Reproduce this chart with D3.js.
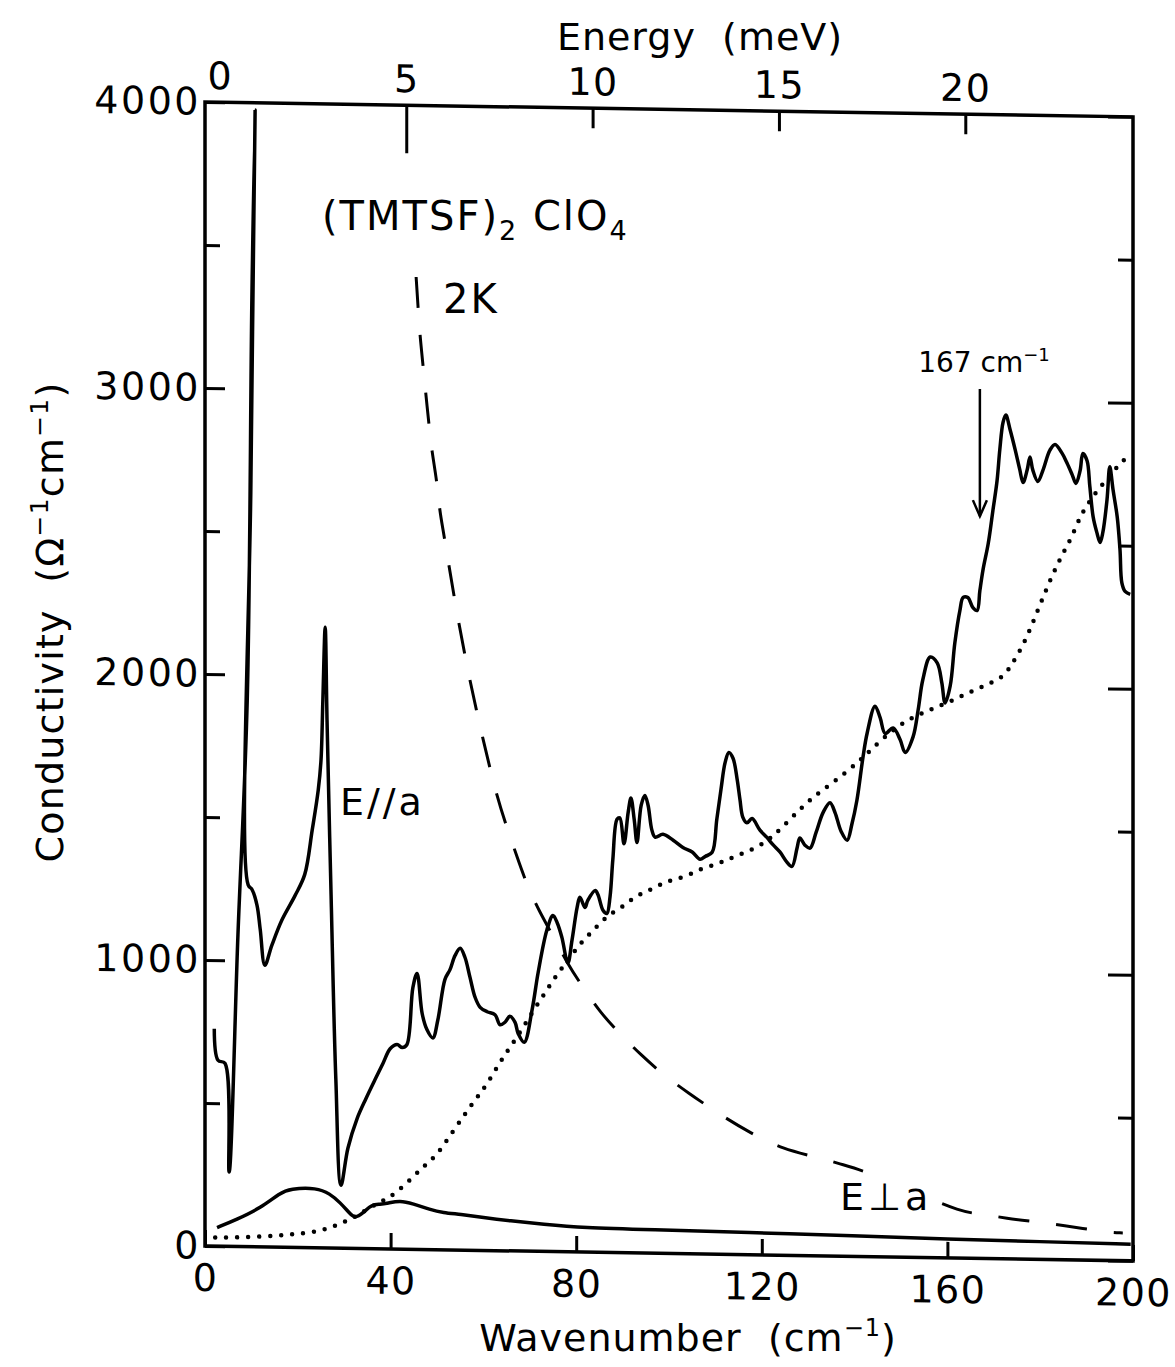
<!DOCTYPE html>
<html>
<head>
<meta charset="utf-8">
<title>(TMTSF)2ClO4 far-infrared conductivity</title>
<script src="https://cdn.jsdelivr.net/npm/d3@7/dist/d3.min.js"></script>
<style>
  html, body { margin: 0; padding: 0; background: #fff; }
  svg { display: block; }
  text { font-family: "DejaVu Sans", "Liberation Sans", sans-serif; fill: #000; }
</style>
</head>
<body>
<svg id="chart" width="1175" height="1367" viewBox="0 0 1175 1367"></svg>
<script>
// ---- axes ----
const wavenumberTicks = [0, 40, 80, 120, 160, 200];           // cm^-1
const energyTicks = [0, 5, 10, 15, 20];                       // meV
const energyDomain = [-0.4, 24.5];                            // meV spanned by the top axis
const conductivityTicks = [0, 1000, 2000, 3000, 4000];        // ohm^-1 cm^-1
const conductivityHalfTicks = [500, 1500, 2500, 3500];

// ---- spectra at 2 K: [wavenumber (cm^-1), conductivity (ohm^-1 cm^-1)] ----
const sigmaParallel = [
  [2.0,760],[2.8,650],[4.3,640],[5.2,260],[7.1,1090],[9.1,1910],[10.1,3310],[10.8,3975],
  [9.9,2680],[9.3,1265],[10.1,1250],[11.2,1195],[11.9,1110],[12.9,985],[14.4,1055],[16.6,1145],
  [19.4,1230],[21.5,1305],[23.1,1460],[24.4,1600],[25.0,1705],[25.4,1915],[25.9,2170],[26.3,1845],
  [27.2,1215],[28.2,590],[29.3,220],[30.8,350],[32.8,455],[34.7,525],[36.6,590],[38.4,650],
  [39.9,700],[41.4,715],[42.5,705],[43.5,715],[44.8,915],[45.7,965],[46.8,825],[47.8,770],
  [49.1,740],[50.2,805],[51.7,945],[52.8,980],[53.9,1030],[55.0,1055],[56.0,1025],[57.1,955],
  [58.2,885],[59.3,850],[60.8,835],[62.5,825],[63.6,790],[64.7,800],[65.7,820],[66.8,800],
  [67.5,760],[68.8,730],[70.5,845],[71.8,975],[73.7,1125],[75.0,1175],[75.9,1150],[76.9,1100],
  [78.2,1010],[79.1,1090],[80.2,1205],[80.8,1240],[81.9,1205],[82.5,1230],[84.1,1265],[84.7,1250],
  [85.8,1195],[86.6,1185],[87.3,1245],[87.9,1375],[88.8,1515],[89.4,1520],[90.3,1430],[91.2,1540],
  [91.8,1590],[92.5,1515],[93.1,1435],[94.0,1565],[94.8,1600],[95.5,1565],[96.3,1480],[97.0,1455],
  [98.7,1465],[100.9,1445],[103.0,1420],[105.0,1405],[106.7,1380],[107.8,1390],[109.3,1405],[110.3,1520],
  [111.2,1625],[112.1,1720],[112.9,1755],[113.8,1735],[114.7,1660],[115.3,1590],[115.9,1530],[116.8,1510],
  [117.9,1525],[119.6,1485],[121.1,1460],[122.4,1435],[123.9,1410],[125.4,1375],[126.5,1360],[127.6,1425],
  [128.2,1460],[129.3,1435],[130.4,1425],[131.7,1480],[133.2,1550],[134.7,1585],[135.8,1550],[137.1,1485],
  [138.4,1455],[139.4,1510],[140.5,1595],[141.8,1745],[142.7,1830],[144.4,1925],[145.5,1885],[146.6,1830],
  [148.3,1850],[149.8,1810],[150.9,1765],[152.6,1820],[153.7,1915],[154.7,2020],[156.3,2100],[157.8,2080],
  [158.8,2010],[159.5,1940],[160.6,2000],[161.6,2150],[162.7,2265],[163.4,2310],[164.4,2310],[165.5,2275],
  [166.4,2265],[167.0,2335],[167.7,2410],[168.8,2500],[169.8,2615],[170.7,2720],[171.3,2830],[172.0,2925],
  [172.6,2950],[173.5,2900],[174.6,2830],[175.6,2760],[176.3,2715],[177.2,2760],[177.8,2805],[178.4,2760],
  [179.5,2720],[180.6,2760],[182.1,2830],[183.2,2850],[184.7,2820],[185.8,2785],[186.9,2745],[187.7,2715],
  [188.6,2760],[189.2,2820],[190.1,2795],[190.7,2705],[191.4,2600],[192.2,2545],[192.9,2510],[193.5,2545],
  [194.4,2660],[195.0,2775],[195.7,2695],[196.6,2600],[197.2,2485],[197.6,2370],[198.3,2340],[199.4,2330]
];

const sigmaPerpendicular = [
  [2.6,65],[6.9,95],[11.9,135],[16.2,190],[18.3,205],[24.1,210],[26.9,190],[29.1,160],
  [31.3,120],[32.3,105],[34.1,125],[36.0,155],[37.7,155],[39.4,160],[42.0,170],[44.8,160],
  [48.5,140],[51.3,130],[55.0,125],[59.9,115],[65.7,105],[72.8,95],[81.5,85],[95.9,82],
  [117,78],[140,72],[160,66],[180,62],[199.5,58]
];

// dashed curve
const sigmaDashed = [
  [45.5,3400],[45.9,3300],[46.3,3200],[47.0,3090],[47.6,2990],[48.3,2880],[48.9,2790],[50.0,2685],
  [50.6,2580],[51.3,2520],[54,2250],[57,1995],[60,1780],[63.1,1575],[65.1,1480],[67.2,1380],
  [69.4,1280],[72.0,1190],[74.8,1110],[78.2,1005],[81.5,925],[85.1,840],[89.7,760],[93.8,695],
  [98.7,625],[103.9,565],[111,488],[117.5,426],[124.6,370],[131.9,345],[137.5,320],[143.3,293],
  [153,229],[162.7,161],[168.5,153],[172,143],[180.6,128],[184.3,122],[194.0,99],[197.8,97]
];

// dotted curve
const sigmaDotted = [
  [2.2,30],[3.9,30],[11.9,35],[18.3,45],[24.1,55],[28.4,80],[31.9,105],[37.1,160],
  [39.9,180],[43.5,230],[47.0,290],[50.0,330],[52.8,400],[56.0,475],[58.6,535],[60.3,570],
  [62.9,640],[64.2,675],[65.7,710],[68.3,775],[71.1,850],[73.7,915],[76.1,975],[78.7,1030],
  [81.2,1085],[83.4,1120],[85.6,1160],[87.9,1190],[90.1,1210],[92.2,1240],[94.4,1260],[96.6,1275],
  [98.7,1295],[100.6,1305],[102.8,1315],[105.0,1330],[106.7,1345],[108.8,1355],[111.0,1370],[112.7,1380],
  [114.7,1395],[116.8,1410],[119.0,1425],[121.1,1450],[122.8,1470],[126.7,1535],[131.0,1605],[136.2,1665],
  [141.2,1735],[144.0,1780],[148.3,1845],[152.6,1890],[156.9,1920],[161.2,1950],[165.5,1985],[169.8,2015],
  [172.4,2040],[174.1,2085],[176.3,2145],[178.4,2225],[180.6,2315],[182.8,2400],[184.9,2470],[186.9,2530],
  [188.6,2600],[190.3,2645],[192.9,2705],[195.7,2755],[197.2,2790],[198.9,2810]
];

// marker for the 167 cm^-1 feature
const markerWavenumber = 167;
const markerFrom = 3040;
const markerTo = 2595;

// ---- drawing ----
const svg = d3.select("#chart");
svg.append("rect").attr("width", 1175).attr("height", 1367).attr("fill", "#fff");

const x = d3.scaleLinear().domain([0, 200]).range([205, 1133]);
const y = d3.scaleLinear().domain([0, 4000]).range([1246, 102]);
const xEnergy = d3.scaleLinear().domain(energyDomain).range(x.range());

// the whole panel leans slightly, right side lower
const lean = 0.016;
const plot = svg.append("g")
  .attr("transform", `matrix(1,${lean},0,1,0,${-lean * x(0)})`);

function styleAxis(g, size, spacing) {
  g.attr("font-family", null).attr("font-size", null);
  g.select(".domain").remove();
  g.selectAll(".tick line").attr("stroke", "#000").attr("stroke-width", 3);
  g.selectAll(".tick text")
    .attr("fill", "#000")
    .attr("font-family", '"DejaVu Sans", sans-serif')
    .attr("font-size", size)
    .attr("letter-spacing", spacing);
}

// bottom: wavenumber
plot.append("g")
  .attr("transform", `translate(0,${y(0)})`)
  .call(d3.axisBottom(x).tickValues(wavenumberTicks).tickSize(-16).tickPadding(18).tickFormat(d3.format("d")))
  .call(g => styleAxis(g, 38, 1.5));

// left: conductivity
plot.append("g")
  .attr("transform", `translate(${x(0)},0)`)
  .call(d3.axisLeft(y).tickValues(conductivityTicks).tickSize(-20).tickPadding(4).tickFormat(d3.format("d")))
  .call(g => styleAxis(g, 38, 2.5));
plot.append("g")
  .attr("transform", `translate(${x(0)},0)`)
  .call(d3.axisLeft(y).tickValues(conductivityHalfTicks).tickSize(-15).tickFormat(""))
  .call(g => styleAxis(g, 38, 0));

// right: unlabeled ticks
plot.append("g")
  .attr("transform", `translate(${x(200)},0)`)
  .call(d3.axisRight(y).tickValues(conductivityTicks).tickSize(-25).tickFormat(""))
  .call(g => styleAxis(g, 38, 0));
plot.append("g")
  .attr("transform", `translate(${x(200)},0)`)
  .call(d3.axisRight(y).tickValues(conductivityHalfTicks).tickSize(-15).tickFormat(""))
  .call(g => styleAxis(g, 38, 0));

// top: energy
const topAxis = plot.append("g")
  .attr("transform", `translate(0,${y(4000)})`)
  .call(d3.axisTop(xEnergy).tickValues(energyTicks).tickSize(-20).tickPadding(13).tickFormat(d3.format("d")))
  .call(g => styleAxis(g, 38, 1.5));
topAxis.selectAll(".tick").filter(d => d === 0).select("line").remove();
topAxis.selectAll(".tick").filter(d => d === 5).select("line").attr("y2", 48);

// frame
plot.append("rect")
  .attr("x", x(0)).attr("y", y(4000))
  .attr("width", x(200) - x(0)).attr("height", y(0) - y(4000))
  .attr("fill", "none").attr("stroke", "#000").attr("stroke-width", 3.5);

const sharpLine = d3.line().x(d => x(d[0])).y(d => y(d[1])).curve(d3.curveCatmullRom.alpha(0.5));
const smoothLine = d3.line().x(d => x(d[0])).y(d => y(d[1])).curve(d3.curveBasis);

plot.append("path").datum(sigmaDotted)
  .attr("d", smoothLine).attr("fill", "none").attr("stroke", "#000")
  .attr("stroke-width", 4.5).attr("stroke-linecap", "round").attr("stroke-dasharray", "0 11");

plot.append("path").datum(sigmaDashed)
  .attr("d", smoothLine).attr("fill", "none").attr("stroke", "#000")
  .attr("stroke-width", 3).attr("stroke-dasharray", "31 27");

plot.append("path").datum(sigmaPerpendicular)
  .attr("d", smoothLine).attr("fill", "none").attr("stroke", "#000")
  .attr("stroke-width", 3.5).attr("stroke-linejoin", "round");

plot.append("path").datum(sigmaParallel)
  .attr("d", sharpLine).attr("fill", "none").attr("stroke", "#000")
  .attr("stroke-width", 3.5).attr("stroke-linejoin", "round");

// arrow at 167 cm^-1
const ax = x(markerWavenumber);
plot.append("line")
  .attr("x1", ax).attr("x2", ax).attr("y1", y(markerFrom)).attr("y2", y(markerTo))
  .attr("stroke", "#000").attr("stroke-width", 2.5);
plot.append("path")
  .attr("d", `M${ax - 7},${y(markerTo) - 16}L${ax},${y(markerTo)}L${ax + 7},${y(markerTo) - 16}`)
  .attr("fill", "none").attr("stroke", "#000").attr("stroke-width", 2.5);

// ---- titles and labels ----
function rich(sel, parts) {
  parts.forEach(p => {
    const t = sel.append("tspan").text(p.t);
    if (p.size) t.attr("font-size", p.size);
    if (p.dy) t.attr("dy", p.dy);
  });
  return sel;
}

svg.append("text")
  .attr("x", 700).attr("y", 50).attr("text-anchor", "middle")
  .attr("font-size", 38).attr("letter-spacing", 1).style("white-space", "pre")
  .text("Energy  (meV)");

rich(svg.append("text")
  .attr("x", 688).attr("y", 1351).attr("text-anchor", "middle")
  .attr("font-size", 38).attr("letter-spacing", 1).style("white-space", "pre"),
  [{t: "Wavenumber  (cm"}, {t: "\u22121", size: 24, dy: -15}, {t: ")", size: 38, dy: 15}]);

rich(svg.append("text")
  .attr("transform", "translate(63,622) rotate(-90)").attr("text-anchor", "middle")
  .attr("font-size", 38).attr("letter-spacing", 1.2).style("white-space", "pre"),
  [{t: "Conductivity  (\u03A9"}, {t: "\u22121", size: 25, dy: -15}, {t: "cm", size: 38, dy: 15},
   {t: "\u22121", size: 25, dy: -15}, {t: ")", size: 38, dy: 15}]);

rich(svg.append("text")
  .attr("x", 322).attr("y", 230).attr("font-size", 40).attr("letter-spacing", 2)
  .style("white-space", "pre"),
  [{t: "(TMTSF)"}, {t: "2", size: 27, dy: 10}, {t: " ClO", size: 40, dy: -10}, {t: "4", size: 27, dy: 10}]);

svg.append("text").attr("x", 443).attr("y", 313)
  .attr("font-size", 40).attr("letter-spacing", 2).text("2K");

svg.append("text").attr("x", 340).attr("y", 815)
  .attr("font-size", 38).attr("letter-spacing", 3).text("E//a");

// the dashed curve breaks around this label: white box behind it
const perpLabelBox = svg.append("rect").attr("fill", "#fff");
const perpLabel = svg.append("text").attr("x", 840).attr("y", 1210)
  .attr("font-size", 38).attr("letter-spacing", 4)
  .text("E\u22A5a");
const bb = perpLabel.node().getBBox();
perpLabelBox.attr("x", bb.x - 6).attr("y", bb.y + 2)
  .attr("width", bb.width + 10).attr("height", bb.height - 6);

rich(svg.append("text")
  .attr("x", 984).attr("y", 372).attr("text-anchor", "middle").attr("font-size", 28)
  .style("white-space", "pre"),
  [{t: "167 cm"}, {t: "\u22121", size: 18, dy: -11}]);
</script>
</body>
</html>
